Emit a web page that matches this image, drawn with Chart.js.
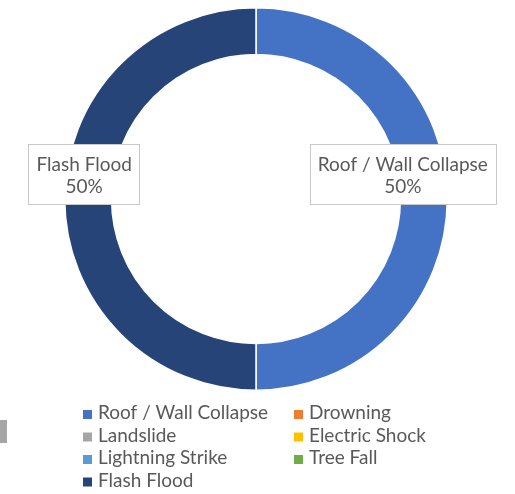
<!DOCTYPE html>
<html>
<head>
<meta charset="utf-8">
<script src="https://cdn.jsdelivr.net/npm/chart.js@4.4.1/dist/chart.umd.min.js"></script>
<style>
  html, body { margin: 0; padding: 0; background: #fff; }
  #wrap { position: relative; width: 515px; height: 494px; }
  #edge { position: absolute; left: 0; top: 420px; width: 7px; height: 23px; background: #a6a6a6; }
</style>
</head>
<body>
<div id="wrap">
  <canvas id="causeChart"></canvas>
  <div id="edge"></div>
</div>
<script>
// categories and share of deaths (%)
const categories = ['Roof / Wall Collapse', 'Drowning', 'Landslide', 'Electric Shock', 'Lightning Strike', 'Tree Fall', 'Flash Flood'];
const shares = [50, 0, 0, 0, 0, 0, 50];
const colors = ['#4472C4', '#ED7D31', '#A5A5A5', '#FFC000', '#5B9BD5', '#70AD47', '#264478'];

const FONT = 'Lato, "Open Sans", sans-serif';
const TEXT = '#595959';

// data labels in boxes, nudged off the ring like the Excel ones
const labelPlugin = {
    id: 'boxLabels',
    afterDatasetsDraw(chart, args, opts) {
        const ctx = chart.ctx;
        const meta = chart.getDatasetMeta(0);
        ctx.save();
        ctx.font = opts.size + 'px ' + FONT;
        ctx.textAlign = 'center';
        ctx.textBaseline = 'alphabetic';
        meta.data.forEach(function(arc, i) {
            if (!shares[i]) return;
            const pos = arc.tooltipPosition();
            const off = opts.offsets[i] || { x: 0, y: 0 };
            const cx = pos.x + off.x;
            const cy = pos.y + off.y;
            const line1 = categories[i];
            const line2 = shares[i] + '%';
            const w = Math.max(ctx.measureText(line1).width, ctx.measureText(line2).width) + 16;
            const h = 60;
            ctx.fillStyle = '#fff';
            ctx.fillRect(cx - w / 2, cy - h / 2, w, h);
            ctx.strokeStyle = '#c8c8c8';
            ctx.lineWidth = 1;
            ctx.strokeRect(Math.round(cx - w / 2) + 0.5, Math.round(cy - h / 2) + 0.5, Math.round(w), h);
            ctx.fillStyle = TEXT;
            ctx.fillText(line1, cx, cy - 3);
            ctx.fillText(line2, cx, cy + 19);
        });
        ctx.restore();
    }
};

// two-column legend under the ring
const gridLegend = {
    id: 'gridLegend',
    afterDraw(chart, args, opts) {
        const ctx = chart.ctx;
        ctx.save();
        ctx.font = opts.size + 'px ' + FONT;
        ctx.textBaseline = 'alphabetic';
        ctx.textAlign = 'left';
        categories.forEach(function(name, i) {
            const col = i % 2;
            const row = Math.floor(i / 2);
            const x = opts.cols[col];
            const y = opts.top + row * opts.rowGap;
            ctx.fillStyle = colors[i];
            ctx.fillRect(x, y - 9, 9, 9);
            ctx.fillStyle = TEXT;
            ctx.fillText(name, x + 15, y);
        });
        ctx.restore();
    }
};

const ctx = document.getElementById('causeChart').getContext('2d');
const causeChart = new Chart(ctx, {
    type: 'doughnut',
    data: {
        labels: categories,
        datasets: [{
            data: shares,
            backgroundColor: colors,
            borderColor: '#ffffff',
            borderWidth: 1.5
        }]
    },
    options: {
        responsive: true,
        maintainAspectRatio: false,
        animation: false,
        cutout: '75.5%',
        layout: { padding: { top: 7, bottom: 103, left: 0, right: 3 } },
        plugins: {
            legend: { display: false },
            tooltip: { enabled: false },
            boxLabels: {
                size: 19,
                offsets: { 0: { x: -21, y: -25 }, 6: { x: -4, y: -25 } }
            },
            gridLegend: {
                size: 19,
                cols: [83, 294],
                top: 419,
                rowGap: 22.5
            }
        }
    },
    plugins: [labelPlugin, gridLegend]
});
</script>
</body>
</html>
